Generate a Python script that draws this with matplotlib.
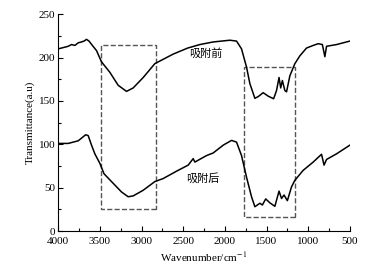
import numpy as np
import matplotlib.pyplot as plt
from matplotlib.patches import Rectangle
from matplotlib.ticker import MultipleLocator

plt.rcParams['font.family'] = ['Liberation Serif', 'Noto Sans CJK SC']
plt.rcParams['mathtext.fontset'] = 'stix'

# before adsorption (吸附前)
wn_before = [4000, 3960, 3920, 3880, 3840, 3800, 3760, 3720, 3690, 3660, 3630, 3590, 3540,
             3480, 3380, 3280, 3180, 3100, 2980, 2840, 2740, 2620, 2445, 2300, 2140,
             1940, 1860, 1800, 1740, 1700, 1640, 1600, 1540, 1480, 1415, 1380, 1350,
             1330, 1310, 1280, 1260, 1220, 1160, 1100, 1020, 940, 880, 830, 800, 780,
             660, 500]
t_before = [210, 211, 212, 213, 215, 214, 217, 218, 219, 221, 219, 214, 208,
            195, 183, 168, 161, 165, 177, 193, 198, 204, 211, 215, 218,
            220, 219, 210, 189, 170, 153, 155, 159.5, 155.5, 152.5, 162, 177,
            165, 173.5, 162, 160.5, 179, 193, 202, 211, 214, 216, 215, 201, 213,
            215, 219]

# after adsorption (吸附后)
wn_after = [4000, 3880, 3760, 3670, 3640, 3600, 3560, 3500, 3450, 3340, 3240, 3160,
            3100, 2980, 2840, 2740, 2580, 2440, 2380, 2360, 2220, 2140, 2020, 1920,
            1860, 1800, 1740, 1680, 1640, 1580, 1550, 1510, 1460, 1400, 1350, 1320,
            1290, 1250, 1200, 1160, 1060, 940, 840, 810, 780, 660, 500]
t_after = [101, 101, 104, 111, 110, 99, 89, 78, 66, 55, 45, 39.5,
           40.5, 47, 57, 60.5, 69, 76, 83.5, 79.5, 87, 90, 99, 104.5,
           102.5, 87, 62, 39.5, 28, 32, 30, 37, 32.5, 28.5, 46, 37.5,
           41.5, 35, 51, 58.5, 70, 79.5, 88.5, 76, 82.5, 89, 99]

# dashed boxes: (x_left, x_right, y_bottom, y_top)
box1 = (3488, 2829, 25, 215)
box2 = (1770, 1158, 16, 189)

fig = plt.figure(figsize=(3.73, 2.68), dpi=100)
ax = fig.add_axes([0.156, 0.138, 0.782, 0.809])

ax.plot(wn_before, t_before, color='black', lw=1.1)
ax.plot(wn_after, t_after, color='black', lw=1.1)

for x0, x1, y0, y1 in [box1, box2]:
    ax.add_patch(Rectangle((x1, y0), x0 - x1, y1 - y0, fill=False,
                           edgecolor='#555555', linestyle='--', lw=1.0))

ax.text(2225, 205, '吸附前', fontsize=8, ha='center', va='center', family='Noto Sans CJK SC')
ax.text(2260, 61, '吸附后', fontsize=8, ha='center', va='center', family='Noto Sans CJK SC')

ax.set_xlim(4000, 500)
ax.set_ylim(0, 250)
ax.xaxis.set_major_locator(MultipleLocator(500))
ax.xaxis.set_minor_locator(MultipleLocator(250))
ax.yaxis.set_major_locator(MultipleLocator(50))
ax.yaxis.set_minor_locator(MultipleLocator(25))
ax.tick_params(which='both', direction='in', labelsize=8, width=0.8)
ax.tick_params(axis='y', pad=2)
ax.tick_params(axis='x', pad=4)
ax.tick_params(which='major', length=3.5)
ax.tick_params(which='minor', length=2)
ax.spines['top'].set_visible(False)
ax.spines['right'].set_visible(False)
ax.set_xlabel('Wavenumber/cm$^{-1}$', fontsize=8, labelpad=3)
ax.set_ylabel('Transmittance(a.u)', fontsize=8, labelpad=3)

fig.savefig('out.png', dpi=100)
